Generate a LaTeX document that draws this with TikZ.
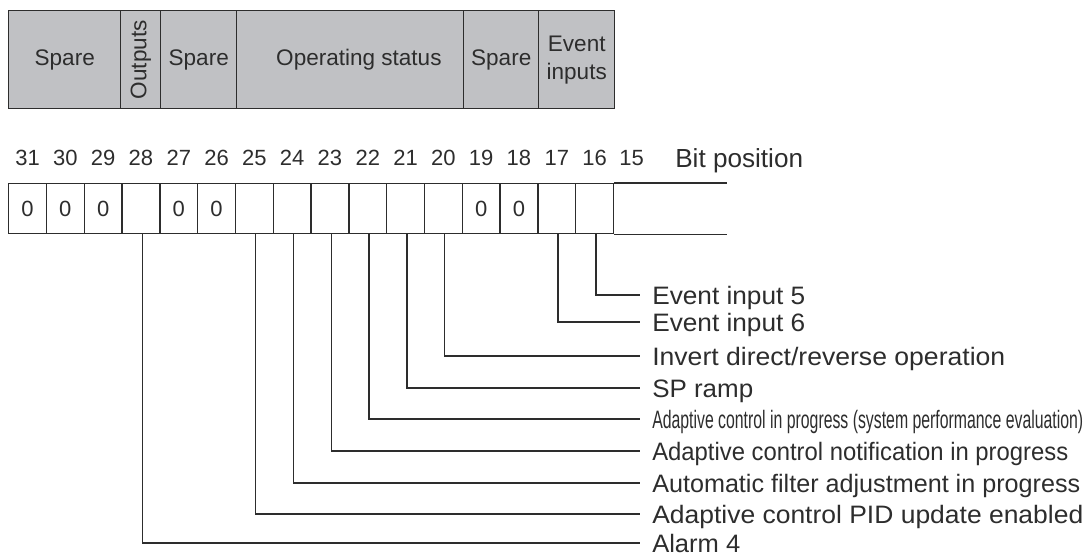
\documentclass[tikz,border=0pt]{standalone}
\usepackage{fontspec}
\setmainfont{Liberation Sans}
\usepackage{graphicx}
\definecolor{hdr}{RGB}{192,193,196}
\definecolor{ln}{RGB}{45,45,45}
\newcommand{\fitw}[2]{\resizebox{#1\dimexpr 0.75pt\relax}{\height}{#2}}
\begin{document}
\begin{tikzpicture}[x=0.75pt,y=-0.75pt,
  hdrbox/.style={draw=ln, fill=hdr, line width=1.1pt, inner sep=0pt, minimum height=73.5pt,
    anchor=north west, font=\fontsize{16.9}{21}\selectfont, align=center, text=ln},
  cellbox/.style={draw=ln, line width=1pt, inner sep=0pt, minimum width=28.35pt,
    minimum height=37.5pt, anchor=north west, font=\fontsize{16.5}{19}\selectfont, text=ln},
  num/.style={anchor=base, inner sep=0pt, font=\fontsize{16.5}{19}\selectfont, text=ln},
  lbl/.style={anchor=west, inner xsep=9pt, inner ysep=0pt, text height=13.5pt, text depth=0pt,
    font=\fontsize{18.9}{22}\selectfont, text=ln},
  lead/.style={draw=ln, line width=1pt}]
\useasboundingbox (0,0) rectangle (1088,558);
% header
\node[hdrbox, minimum width=84pt] (h1) at (8,10) {Spare};
\node[hdrbox, minimum width=30pt] (h2) at (120,10) {\rotatebox{90}{Outputs}};
\node[hdrbox, minimum width=57pt] (h3) at (160,10) {Spare};
\node[hdrbox, minimum width=170.25pt] (h4) at (236,10) {\hspace*{13pt}Operating status};
\node[hdrbox, minimum width=56.25pt] (h5) at (463,10) {Spare};
\node[hdrbox, minimum width=57pt] (h6) at (538,10) {Event\\inputs};
% bit cells
\foreach \b/\v [count=\i from 0] in {31/0,30/0,29/0,28/,27/0,26/0,25/,24/,23/,22/,21/,20/,19/0,18/0,17/,16/} {
  \node[cellbox] (c\b) at ({8+37.8*\i},183) {\v};
  \node[num] (n\b) at ([yshift=13.5pt]c\b.north) {\b};
}
\coordinate (rt) at (727,183);
\coordinate (rb) at (727,233);
\draw[lead] (c16.north east) -- (c16.north east -| rt);
\draw[lead] (c16.south east) -- (c16.south east -| rb);
\node[num] (n15) at (631.7,165) {15};
\node[anchor=base west, inner sep=0pt, font=\fontsize{19.6}{22}\selectfont, text=ln] (bp) at (675,167) {Bit position};
% labels
\node[lbl] (l16) at (640,295) {\fitw{153}{Event input 5}};
\node[lbl] (l17) at (640,322) {\fitw{153}{Event input 6}};
\node[lbl] (l20) at (640,356) {\fitw{353}{Invert direct/reverse operation}};
\node[lbl] (l21) at (640,388) {\fitw{101}{SP ramp}};
\node[lbl] (l22) at (640,419) {\fitw{431}{Adaptive control in progress (system performance evaluation)}};
\node[lbl] (l23) at (640,451) {\fitw{416}{Adaptive control notification in progress}};
\node[lbl] (l24) at (640,483) {\fitw{428}{Automatic filter adjustment in progress}};
\node[lbl] (l25) at (640,514) {\fitw{431}{Adaptive control PID update enabled}};
\node[lbl] (l28) at (640,543) {\fitw{88}{Alarm 4}};
% leaders
\foreach \b in {16,17,20,21,22,23,24,25,28} {
  \draw[lead] ([xshift=1pt]c\b.south) |- (l\b.west);
}
\end{tikzpicture}
\end{document}
